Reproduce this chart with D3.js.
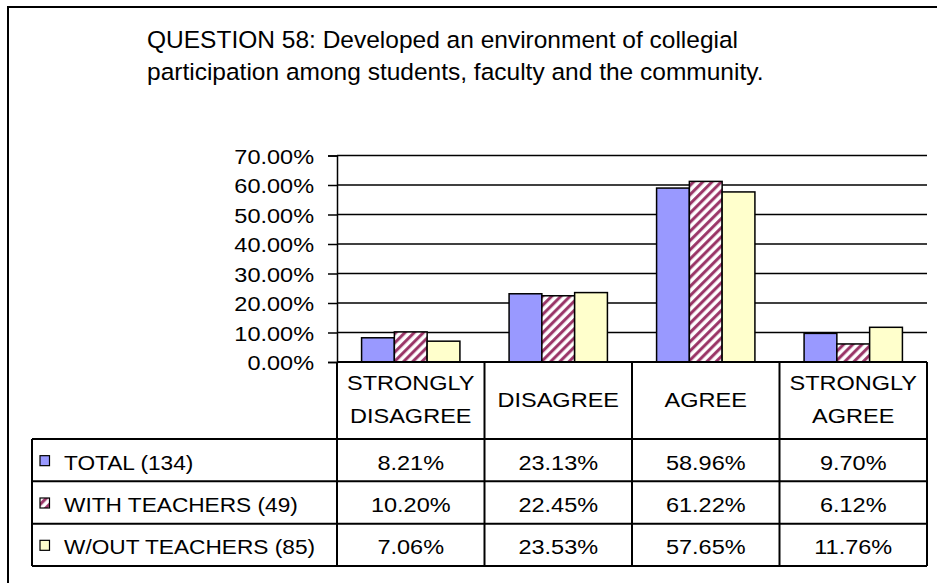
<!DOCTYPE html>
<html><head><meta charset="utf-8">
<script src="https://cdn.jsdelivr.net/npm/d3@7"></script>
<style>body{margin:0;background:#fff}svg{display:block}text{font-family:"Liberation Sans",Arial,sans-serif;fill:#000}</style>
</head><body>
<script>
const titleLines = ["QUESTION 58: Developed an environment of collegial", "participation among students, faculty and the community."];
const categories = [["STRONGLY","DISAGREE"],["DISAGREE"],["AGREE"],["STRONGLY","AGREE"]];
const seriesNames = ["TOTAL (134)","WITH TEACHERS (49)","W/OUT TEACHERS (85)"];
const totalValues = [8.21, 23.13, 58.96, 9.70];
const withValues = [10.20, 22.45, 61.22, 6.12];
const withoutValues = [7.06, 23.53, 57.65, 11.76];
const yTicks = [0,10,20,30,40,50,60,70];

const W = 937, H = 583, SX = 1.12, FS = 21;
const svg = d3.select("body").append("svg").attr("width", W).attr("height", H);
const defs = svg.append("defs");
const pat = defs.append("pattern").attr("id","hatch").attr("patternUnits","userSpaceOnUse")
  .attr("width",6.5).attr("height",6.5).attr("patternTransform","rotate(45)");
pat.append("rect").attr("width",6.5).attr("height",6.5).attr("fill","#fff");
pat.append("line").attr("x1",1.6).attr("x2",1.6).attr("y1",0).attr("y2",6.5).attr("stroke","#993366").attr("stroke-width",3);

const fills = ["#9999FF","url(#hatch)","#FFFFCC"];
const series = [totalValues, withValues, withoutValues];

function stext(g, tx, ty, str, anchor, sx){
  return g.append("text").attr("transform",`translate(${tx},${ty}) scale(${sx||SX},1)`)
    .attr("font-size",FS).attr("text-anchor",anchor||"start").text(str);
}

// outer frame
svg.append("rect").attr("x",8).attr("y",7).attr("width",940).attr("height",600)
  .attr("fill","none").attr("stroke","#000").attr("stroke-width",2);

// title
const tt = svg.append("text").attr("font-size",24.5);
titleLines.forEach((t,i)=> tt.append("tspan").attr("x",147).attr("y",48+i*32).text(t));

const x0 = 337, x1 = 927, yTop = 155.5, yBot = 362;
const x = d3.scaleBand().domain(d3.range(categories.length)).range([x0,x1]).padding(0);
const cw = x.bandwidth(), bw = cw/4.5;
const xs = d3.scaleBand().domain(d3.range(series.length)).range([0.75*bw, 3.75*bw]).padding(0);
const y = d3.scaleLinear().domain([0,70]).range([yBot,yTop]);

// gridlines
svg.append("g").selectAll("line").data(yTicks.filter(d=>d>0)).join("line")
  .attr("x1",x0).attr("x2",x1).attr("y1",d=>y(d)).attr("y2",d=>y(d))
  .attr("stroke","#000").attr("stroke-width",1.5);

// y axis
const yAxis = d3.axisLeft(y).tickValues(yTicks).tickSize(9).tickPadding(11.5).tickFormat(d=>d3.format(".2f")(d)+"%");
const ga = svg.append("g").attr("transform",`translate(${x0},0)`).call(yAxis);
ga.select(".domain").attr("stroke","#000").attr("stroke-width",1.5);
ga.selectAll(".tick line").attr("stroke","#000").attr("stroke-width",1.5);
ga.selectAll(".tick text").attr("font-size",FS).attr("font-family","Liberation Sans, Arial, sans-serif")
  .attr("fill","#000").attr("dy","0.36em").attr("transform",`scale(${SX},1)`);

// bars
series.forEach((vals,si)=>{
  svg.append("g").selectAll("rect").data(vals).join("rect")
    .attr("x",(d,i)=>x(i)+xs(si)).attr("width",xs.bandwidth())
    .attr("y",d=>y(d)).attr("height",d=>yBot-y(d))
    .attr("fill",fills[si]).attr("stroke","#000").attr("stroke-width",1.5);
});

// table
const rowTop = 439, rowH = 42.33, tblLeft = 32;
const tg = svg.append("g").attr("stroke","#000").attr("stroke-width",2);
tg.append("line").attr("x1",x0).attr("x2",x1).attr("y1",yBot).attr("y2",yBot);
d3.range(categories.length+1).forEach(i=>{
  const xx = i<categories.length ? x(i) : x1;
  tg.append("line").attr("x1",xx).attr("x2",xx).attr("y1",yBot).attr("y2",rowTop+3*rowH);
});
d3.range(4).forEach(r=>{
  tg.append("line").attr("x1",tblLeft).attr("x2",x1).attr("y1",rowTop+r*rowH).attr("y2",rowTop+r*rowH);
});
tg.append("line").attr("x1",tblLeft).attr("x2",tblLeft).attr("y1",rowTop).attr("y2",rowTop+3*rowH);

// headers
const hg = svg.append("g");
categories.forEach((lines,i)=>{
  const cx = x(i)+cw/2;
  if(lines.length===2){
    stext(hg, cx, 390, lines[0], "middle");
    stext(hg, cx, 423, lines[1], "middle");
  } else {
    stext(hg, cx, 407, lines[0], "middle");
  }
});

// rows
const rg = svg.append("g");
seriesNames.forEach((name,si)=>{
  const cy = rowTop + si*rowH + rowH/2;
  rg.append("rect").attr("x",40).attr("y",cy-4.5).attr("width",9.5).attr("height",10)
    .attr("fill",fills[si]).attr("stroke","#000").attr("stroke-width",1.2);
  stext(rg, 64, cy+9.5, name, "start", 1.08);
  series[si].forEach((v,i)=>{
    stext(rg, x(i)+cw/2, cy+9.5, d3.format(".2f")(v)+"%", "middle");
  });
});
</script>
</body></html>
